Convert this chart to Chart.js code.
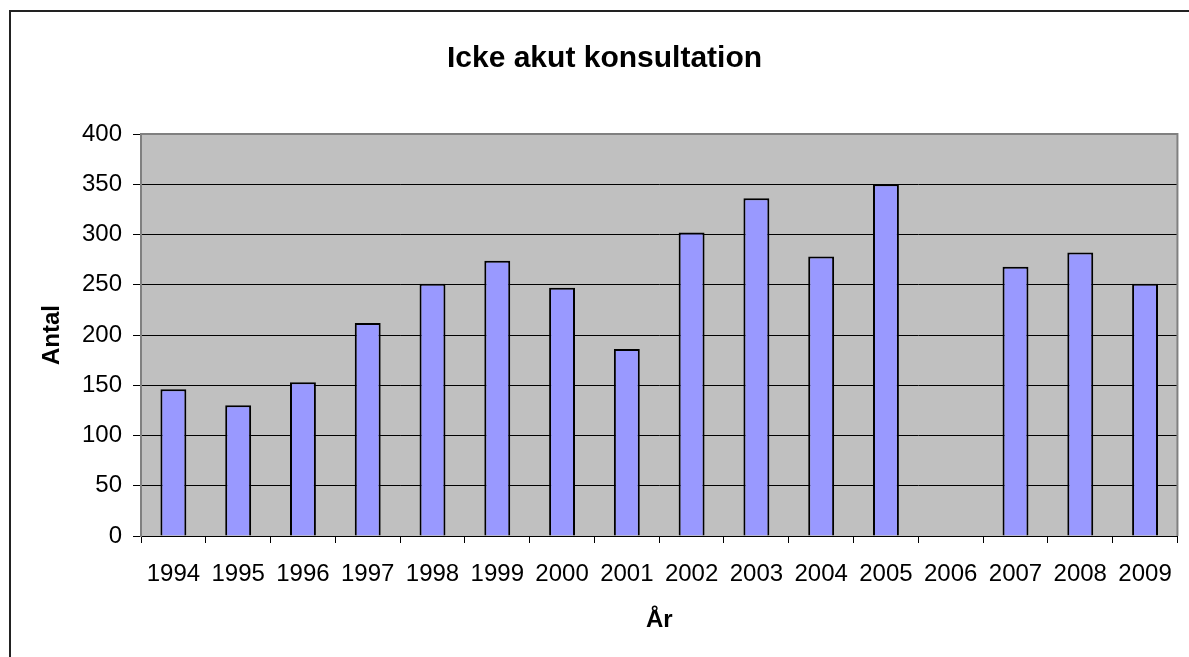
<!DOCTYPE html>
<html>
<head>
<meta charset="utf-8">
<script src="https://cdn.jsdelivr.net/npm/chart.js@4"></script>
<style>
  html, body { margin: 0; padding: 0; background: #fff; }
  #wrap { width: 1189px; height: 657px; }
</style>
</head>
<body>
<div id="wrap"><canvas id="konsChart" width="1189" height="657"></canvas></div>
<script>
const years = ['1994', '1995', '1996', '1997', '1998', '1999', '2000', '2001',
               '2002', '2003', '2004', '2005', '2006', '2007', '2008', '2009'];
const antal = [146, 130, 153, 212, 251, 274, 247, 186, 302, 336, 278, 350, null, 268, 282, 251];
const yTicks = [0, 50, 100, 150, 200, 250, 300, 350, 400];

// grey plot background, grey plot border and the outer frame
const excelLook = {
    id: 'excelLook',
    beforeDraw(chart) {
        const {ctx, chartArea: a} = chart;
        ctx.save();
        ctx.fillStyle = '#c0c0c0';
        ctx.fillRect(a.left, a.top, a.right - a.left, a.bottom - a.top);
        ctx.strokeStyle = '#222';
        ctx.lineWidth = 2;
        ctx.beginPath();
        ctx.moveTo(10, 700);
        ctx.lineTo(10, 11);
        ctx.lineTo(1200, 11);
        ctx.stroke();
        ctx.restore();
    },
    afterDatasetsDraw(chart) {
        const {ctx, chartArea: a} = chart;
        ctx.save();
        ctx.strokeStyle = '#808080';
        ctx.lineWidth = 2;
        ctx.beginPath();
        ctx.moveTo(a.left, a.top);
        ctx.lineTo(a.right, a.top);
        ctx.lineTo(a.right, a.bottom);
        ctx.stroke();
        ctx.restore();
    }
};

const ctx = document.getElementById('konsChart').getContext('2d');
const konsChart = new Chart(ctx, {
    type: 'bar',
    data: {
        labels: years,
        datasets: [{
            label: 'Antal',
            data: antal,
            backgroundColor: '#9999ff',
            borderColor: '#000',
            borderWidth: 2,
            barPercentage: 0.4,
            categoryPercentage: 1
        }]
    },
    options: {
        responsive: false,
        animation: false,
        layout: {
            padding: { left: 28, right: 8, top: 0, bottom: 0 }
        },
        plugins: {
            legend: { display: false },
            tooltip: { enabled: false },
            title: {
                display: true,
                text: 'Icke akut konsultation',
                color: '#000',
                font: { family: 'Arial, "Liberation Sans"', size: 30, weight: 'bold' },
                padding: { top: 41, bottom: 57 }
            }
        },
        scales: {
            x: {
                grid: {
                    drawOnChartArea: false,
                    drawTicks: true,
                    tickLength: 7,
                    color: '#000'
                },
                border: { color: '#000', width: 1 },
                ticks: {
                    color: '#000',
                    font: { family: 'Arial, "Liberation Sans"', size: 24 },
                    padding: 17,
                    maxRotation: 0,
                    autoSkip: false
                },
                title: {
                    display: true,
                    text: 'År',
                    color: '#000',
                    font: { family: 'Arial, "Liberation Sans"', size: 24, weight: 'bold' },
                    padding: { top: 0, bottom: 22 }
                },
                afterFit(scale) { scale.height = 121; }
            },
            y: {
                min: 0,
                max: 400,
                afterBuildTicks(scale) { scale.ticks = yTicks.map(v => ({ value: v })); },
                grid: {
                    color: '#000',
                    tickLength: 8,
                    drawTicks: true
                },
                border: { color: '#808080', width: 2 },
                ticks: {
                    color: '#000',
                    font: { family: 'Arial, "Liberation Sans"', size: 24 },
                    padding: 11
                },
                title: {
                    display: true,
                    text: 'Antal',
                    color: '#000',
                    font: { family: 'Arial, "Liberation Sans"', size: 24, weight: 'bold' },
                    padding: { top: 10, bottom: 0 }
                },
                afterFit(scale) { scale.width = 113; }
            }
        }
    },
    plugins: [excelLook]
});
</script>
</body>
</html>
